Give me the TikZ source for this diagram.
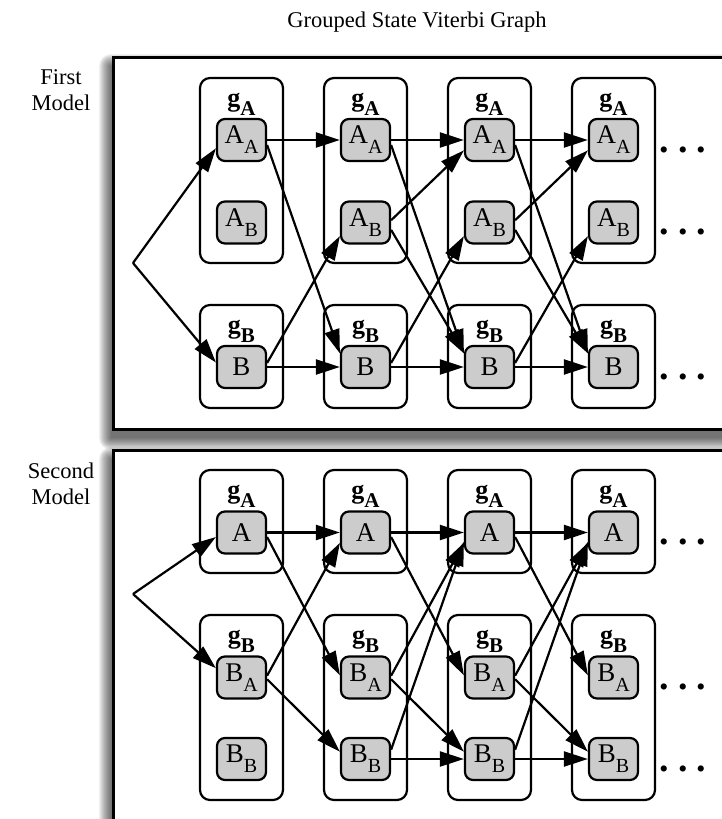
\documentclass[tikz,border=0pt]{standalone}
\usepackage{fontspec}
\setmainfont{Liberation Serif}
\usetikzlibrary{arrows.meta}

\definecolor{stgray}{RGB}{204,204,204}

% subscripted state name and bold group name
\newcommand\stname[2]{#1\raisebox{-10pt}{\fontsize{20}{20}\selectfont #2}}
\newcommand\grname[1]{g\raisebox{-9pt}{\fontsize{21}{21}\selectfont\bfseries #1}}
\newcommand\softshadow[4]{%
  \foreach \i in {0,...,12}
    \fill[black, opacity=0.06, rounded corners=\i pt] (#1-\i,#2-\i) rectangle (#3+\i,#4+\i);}

\tikzset{
  grp/.style={draw, line width=2.2pt, rounded corners=10pt, fill=white,
    minimum width=83pt, inner sep=0pt},
  stt/.style={draw, line width=2.2pt, rounded corners=8pt, fill=stgray,
    minimum width=49pt, minimum height=42pt, inner sep=0pt,
    font=\fontsize{27}{27}\selectfont},
  glab/.style={inner sep=0pt, font=\fontsize{26}{26}\selectfont\bfseries},
  arr/.style={line width=2.2pt, -{Triangle[length=24pt,width=15pt]}},
  panel/.style={draw, line width=3pt, fill=white},
  dotrow/.style={inner sep=0pt, font=\fontsize{38}{38}\selectfont\bfseries},
  txt/.style={inner sep=0pt, font=\fontsize{22.5}{26}\selectfont, align=center}
}

\begin{document}
\begin{tikzpicture}[x=1pt,y=-1pt]
\useasboundingbox (0,0) rectangle (722,819);
\clip (0,0) rectangle (722,819);

% headings
\node[txt] (title) at (417,22) {Grouped State Viterbi Graph};
\node[txt] (lab1) at (61,90) {First\\Model};
\node[txt] (lab2) at (61,484) {Second\\Model};

% ---------------- first model ----------------
\softshadow{111}{66}{740}{438}
\path[panel] (113,57) rectangle (740,429);

\foreach \c/\x in {1/241.5,2/365.5,3/489.5,4/613.5}{
  \node[grp, minimum height=185pt] (tga\c) at (\x,170.5) {};
  \node[grp, minimum height=103pt] (tgb\c) at (\x,356.5) {};
  \node[glab] (tla\c) at (\x,104) {\grname{A}};
  \node[glab] (tlb\c) at (\x,331) {\grname{B}};
  \node[stt] (taa\c) at (\x,140) {\stname{A}{A}};
  \node[stt] (tab\c) at (\x,222.5) {\stname{A}{B}};
  \node[stt] (tb\c) at (\x,367) {B};
}
\node[dotrow] (td1) at (683,150) {.\hspace{9pt}.\hspace{9pt}.};
\node[dotrow] (td2) at (683,232) {.\hspace{9pt}.\hspace{9pt}.};
\node[dotrow] (td3) at (683,377) {.\hspace{9pt}.\hspace{9pt}.};

\coordinate (ts) at (133,263);
\draw[arr] (ts) -- (taa1.198);
\draw[arr] (ts) -- (tb1.170);
\foreach \c/\n in {1/2,2/3,3/4}{
  \draw[arr] (taa\c.east) -- (taa\n.west);
  \draw[arr] (taa\c.-11) -- (tb\n.152);
  \draw[arr] (tb\c.9) -- (tab\n.208);
  \draw[arr] (tb\c.east) -- (tb\n.west);
}
\foreach \c/\n in {2/3,3/4}{
  \draw[arr] (tab\c.5) -- (taa\n.202);
  \draw[arr] (tab\c.-16) -- (tb\n.152);
}

% ---------------- second model ----------------
\softshadow{111}{459}{740}{840}
\path[panel] (113,450) rectangle (740,830);

\foreach \c/\x in {1/241.5,2/365.5,3/489.5,4/613.5}{
  \node[grp, minimum height=103pt] (bga\c) at (\x,521.5) {};
  \node[grp, minimum height=185pt] (bgb\c) at (\x,707.5) {};
  \node[glab] (bla\c) at (\x,496) {\grname{A}};
  \node[glab] (blb\c) at (\x,641) {\grname{B}};
  \node[stt] (ba\c) at (\x,532.5) {A};
  \node[stt] (bba\c) at (\x,677.5) {\stname{B}{A}};
  \node[stt] (bbb\c) at (\x,759) {\stname{B}{B}};
}
\node[dotrow] (bd1) at (683,542) {.\hspace{9pt}.\hspace{9pt}.};
\node[dotrow] (bd2) at (683,687) {.\hspace{9pt}.\hspace{9pt}.};
\node[dotrow] (bd3) at (683,769) {.\hspace{9pt}.\hspace{9pt}.};

\coordinate (bs) at (133,594);
\draw[arr] (bs) -- (ba1.190);
\draw[arr] (bs) -- (bba1.160);
\foreach \c/\n in {1/2,2/3,3/4}{
  \draw[arr] (ba\c.east) -- (ba\n.west);
  \draw[arr] (ba\c.-10) -- (bba\n.175);
  \draw[arr] (bba\c.4) -- (ba\n.202);
  \draw[arr] (bba\c.-4) -- (bbb\n.164);
}
\foreach \c/\n in {2/3,3/4}{
  \draw[arr] (bbb\c.20) -- (ba\n.200);
  \draw[arr] (bbb\c.east) -- (bbb\n.west);
}
\end{tikzpicture}
\end{document}
